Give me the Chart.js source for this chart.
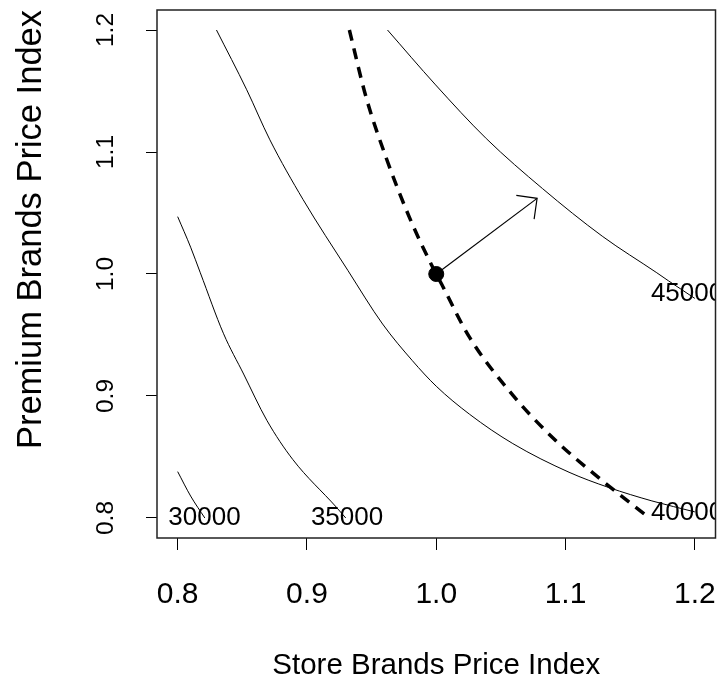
<!DOCTYPE html>
<html>
<head>
<meta charset="utf-8">
<script src="https://cdn.jsdelivr.net/npm/chart.js@4.4.1/dist/chart.umd.min.js"></script>
<style>
  html, body { margin: 0; padding: 0; background: #fff; }
  canvas { display: block; }
</style>
</head>
<body>
<canvas id="contourChart" width="724" height="682"></canvas>
<script>
// contour lines of demand: [store index, premium index]
const contour30000 = [[0.800, 0.838], [0.810, 0.818], [0.821, 0.800]];
const contour35000 = [[0.800, 1.047], [0.810, 1.022], [0.8175, 1.001], [0.8355, 0.951], [0.851, 0.918],
  [0.869, 0.880], [0.889, 0.848], [0.9226, 0.809], [0.930, 0.800]];
const contour40000 = [[0.830, 1.200], [0.8534, 1.151], [0.8713, 1.110], [0.897, 1.061], [0.9316, 1.003],
  [0.9585, 0.959], [0.9815, 0.929], [1.000, 0.908], [1.0258, 0.885], [1.0592, 0.861], [1.1027, 0.8375],
  [1.1334, 0.825], [1.1668, 0.814], [1.200, 0.805]];
const contour45000 = [[0.9623, 1.200], [0.9995, 1.155], [1.0387, 1.111], [1.0822, 1.070], [1.1284, 1.031],
  [1.1706, 1.001], [1.1795, 0.9945], [1.200, 0.980]];
// iso-revenue line through the current price point
const dashedCurve = [[0.9328, 1.200], [0.9457, 1.145], [0.961, 1.096], [0.979, 1.047], [0.9956, 1.009],
  [1.004, 0.992], [1.0258, 0.948], [1.0566, 0.904], [1.0899, 0.866], [1.1284, 0.8306], [1.1642, 0.8006]];
const currentPoint = [[1.0, 1.0]];
const arrowPath = [[1.0, 1.0], [1.078, 1.062]];

const contourLevels = ['30000', '35000', '40000', '45000'];
const levelLabelX = [0.8207, 0.931, 1.194, 1.194];
const levelLabelY = [0.800, 0.800, 0.8045, 0.9836];

const tickValues = [0.8, 0.9, 1.0, 1.1, 1.2];

const FONT = "'Liberation Sans', Arial, Helvetica, sans-serif";

function toXY(arr) { return arr.map(p => ({ x: p[0], y: p[1] })); }

function lineSet(points, extra) {
  return Object.assign({
    data: toXY(points),
    showLine: true,
    borderColor: '#000',
    borderWidth: 1,
    pointRadius: 0,
    fill: false,
    cubicInterpolationMode: 'monotone'
  }, extra || {});
}

// white page, frame around plot region, level labels and arrow head
const extras = {
  id: 'extras',
  beforeDraw(chart) {
    const c = chart.ctx;
    c.save();
    c.fillStyle = '#fff';
    c.fillRect(0, 0, chart.width, chart.height);
    c.restore();
  },
  afterDatasetsDraw(chart) {
    const c = chart.ctx;
    const xs = chart.scales.x, ys = chart.scales.y;
    const a = chart.chartArea;

    // arrow head
    const meta = chart.getDatasetMeta(chart.data.datasets.length - 1);
    const p0 = meta.data[0], p1 = meta.data[1];
    const back = Math.atan2(p0.y - p1.y, p0.x - p1.x);
    const len = 21, spread = Math.PI / 4;
    c.save();
    c.strokeStyle = '#000';
    c.lineWidth = 1.2;
    c.beginPath();
    c.moveTo(p1.x + len * Math.cos(back - spread), p1.y + len * Math.sin(back - spread));
    c.lineTo(p1.x, p1.y);
    c.lineTo(p1.x + len * Math.cos(back + spread), p1.y + len * Math.sin(back + spread));
    c.stroke();
    c.restore();

    // contour level labels, clipped to the plot region
    c.save();
    c.beginPath();
    c.rect(a.left, a.top, a.right - a.left, a.bottom - a.top);
    c.clip();
    c.fillStyle = '#000';
    c.font = '26px ' + FONT;
    c.textAlign = 'center';
    c.textBaseline = 'middle';
    contourLevels.forEach((t, i) => {
      c.fillText(t, xs.getPixelForValue(levelLabelX[i]), ys.getPixelForValue(levelLabelY[i]));
    });
    c.restore();

    // frame
    c.save();
    c.strokeStyle = '#222';
    c.lineWidth = 1.5;
    c.strokeRect(a.left, a.top, a.right - a.left, a.bottom - a.top);
    c.restore();
  }
};

const fixTicks = scale => { scale.ticks = tickValues.map(v => ({ value: v })); };
const noPad = scale => {
  scale.paddingLeft = 0; scale.paddingRight = 0;
  scale.paddingTop = 0; scale.paddingBottom = 0;
};

window.onload = function () {
  const ctx = document.getElementById('contourChart').getContext('2d');
  new Chart(ctx, {
    type: 'scatter',
    data: {
      datasets: [
        lineSet(contour30000),
        lineSet(contour35000),
        lineSet(contour40000),
        lineSet(contour45000),
        lineSet(dashedCurve, { borderWidth: 3.5, borderDash: [11, 8] }),
        { data: toXY(currentPoint), pointRadius: 7.5, pointBackgroundColor: '#000', pointBorderColor: '#000', showLine: false },
        lineSet(arrowPath, { borderWidth: 1.2, cubicInterpolationMode: 'default', tension: 0 })
      ]
    },
    options: {
      responsive: false,
      animation: false,
      layout: { padding: { top: 10, right: 6, bottom: 0, left: 0 } },
      plugins: { legend: { display: false }, tooltip: { enabled: false } },
      scales: {
        x: {
          type: 'linear',
          min: 0.784,
          max: 1.216,
          afterBuildTicks: fixTicks,
          afterFit(scale) { scale.height = 144; noPad(scale); },
          border: { display: false },
          grid: { drawOnChartArea: false, drawTicks: true, tickLength: 12, color: '#000', lineWidth: 1 },
          ticks: {
            color: '#000',
            font: { family: FONT, size: 30 },
            padding: 27,
            maxRotation: 0,
            callback: v => v.toFixed(1)
          },
          title: {
            display: true,
            text: 'Store Brands Price Index',
            color: '#000',
            font: { family: FONT, size: 29.5, lineHeight: 1 },
            padding: { top: 0, bottom: 1 }
          }
        },
        y: {
          type: 'linear',
          min: 0.7836,
          max: 1.2164,
          afterBuildTicks: fixTicks,
          afterFit(scale) { scale.width = 157; noPad(scale); },
          border: { display: false },
          grid: { drawOnChartArea: false, drawTicks: true, tickLength: 11, color: '#000', lineWidth: 1 },
          ticks: {
            color: '#000',
            font: { family: FONT, size: 24.5 },
            padding: 23,
            minRotation: 90,
            maxRotation: 90,
            crossAlign: 'center',
            callback: v => v.toFixed(1)
          },
          title: {
            display: true,
            text: 'Premium Brands Price Index',
            align: 'end',
            color: '#000',
            font: { family: FONT, size: 34.5, lineHeight: 1 },
            padding: { top: 14, bottom: 0 }
          }
        }
      }
    },
    plugins: [extras]
  });
};
</script>
</body>
</html>
